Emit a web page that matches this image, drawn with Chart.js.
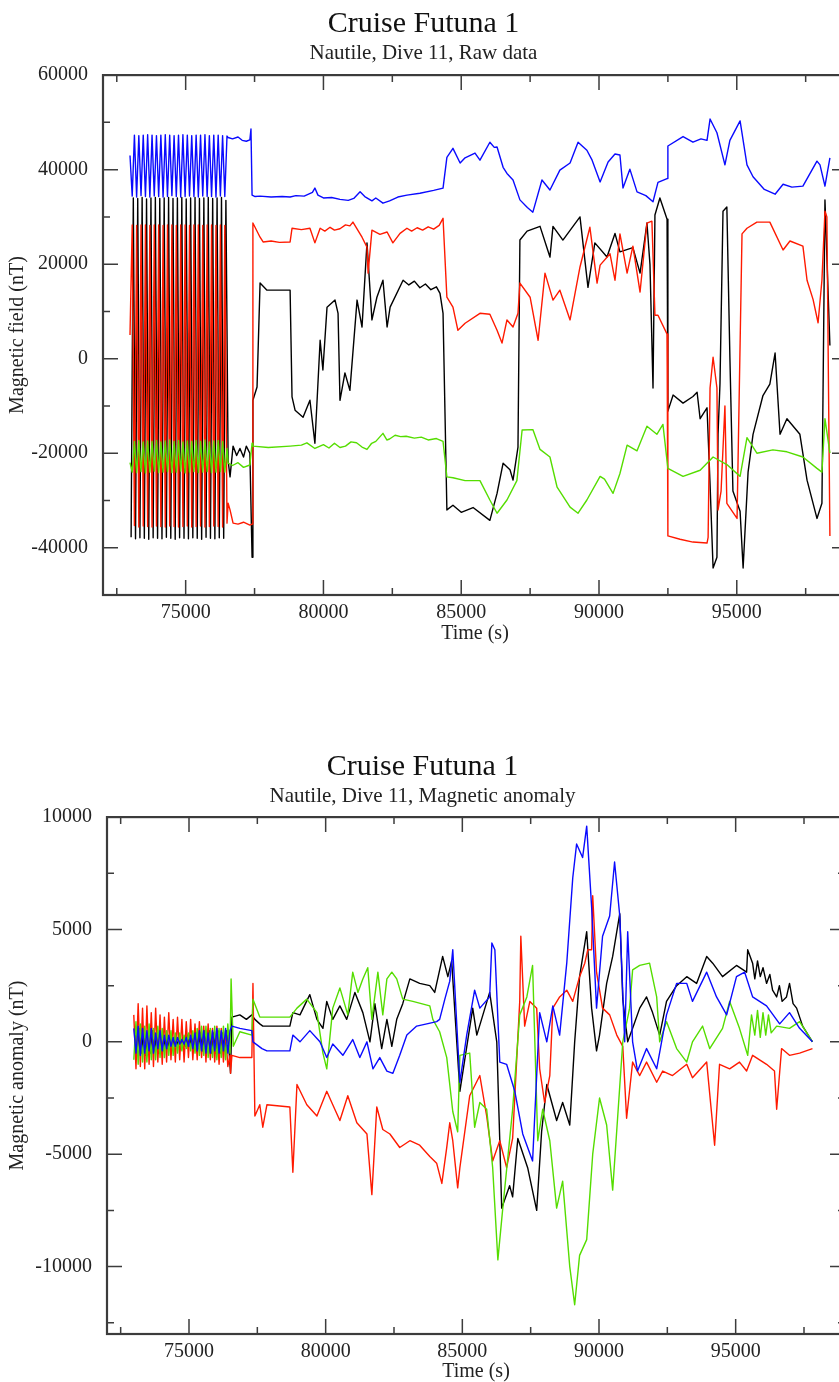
<!DOCTYPE html>
<html>
<head>
<meta charset="utf-8">
<script src="https://cdn.jsdelivr.net/npm/chart.js@4.4.1/dist/chart.umd.min.js"></script>
<style>
html, body { margin: 0; padding: 0; background: #fff; overflow: hidden; width: 839px; height: 1382px; }
#rawBox { position: absolute; left: 0; top: 0; width: 870px; height: 650px; }
#anomBox { position: absolute; left: 0; top: 742px; width: 870px; height: 640px; }
</style>
</head>
<body>
<div id="rawBox"><canvas id="rawChart"></canvas></div>
<div id="anomBox"><canvas id="anomChart"></canvas></div>
<script>
// tick values
var xTicks = [75000, 80000, 85000, 90000, 95000];
var xMinorTicks = [72500, 77500, 82500, 87500, 92500, 97500];
var rawYTicks = [-40000, -20000, 0, 20000, 40000, 60000];
var rawYMinor = [-50000, -30000, -10000, 10000, 30000, 50000];
var anomYTicks = [-10000, -5000, 0, 5000, 10000];
var anomYMinor = [-12500, -7500, -2500, 2500, 7500];

// the magnetometer spins at the start of the dive
var spinTime = [72980, 73060, 73140, 73220, 73300, 73380, 73460, 73540, 73620, 73700, 73780, 73860, 73940, 74020, 74100, 74180, 74260, 74340, 74420, 74500, 74580, 74660, 74740, 74820, 74900, 74980, 75060, 75140, 75220, 75300, 75380, 75460, 75540, 75620, 75700, 75780, 75860, 75940, 76020, 76100, 76180, 76260, 76340, 76420, 76500];
var spinTimeLag = [73020, 73100, 73180, 73260, 73340, 73420, 73500, 73580, 73660, 73740, 73820, 73900, 73980, 74060, 74140, 74220, 74300, 74380, 74460, 74540, 74620, 74700, 74780, 74860, 74940, 75020, 75100, 75180, 75260, 75340, 75420, 75500, 75580, 75660, 75740, 75820, 75900, 75980, 76060, 76140, 76220, 76300, 76380, 76460];

// raw data (nT)
var rawBlueSpin = [43000, 34400, 47300, 34200, 47200, 34500, 47300, 34300, 47400, 34200, 47300, 34400, 47200, 34300, 47300, 34200, 47400, 34300, 47300, 34500, 47200, 34300, 47300, 34200, 47400, 34300, 47300, 34400, 47200, 34300, 47300, 34200, 47300, 34400, 47400, 34300, 47200, 34300, 47300, 34200, 47300, 34400, 47200, 34300, 47100];
var rawRedSpin = [5000, 28300, -35300, 28200, -35600, 28300, -35400, 28300, -35500, 28200, -35600, 28300, -35400, 28300, -35500, 28200, -35600, 28300, -35400, 28300, -35500, 28200, -35600, 28300, -35500, 28300, -35400, 28200, -35600, 28300, -35500, 28300, -35400, 28200, -35600, 28300, -35500, 28300, -35400, 28200, -35500, 28300, -35600, 28200, -34800];
var rawGreenSpin = [-22000, -24000, -17500, -24100, -17300, -23900, -17600, -24200, -17400, -24000, -17500, -23800, -17300, -24100, -17600, -24000, -17400, -23900, -17200, -24100, -17500, -24000, -17300, -23800, -17600, -24200, -17400, -24000, -17500, -23900, -17300, -24100, -17500, -24000, -17200, -23900, -17600, -24100, -17400, -24000, -17300, -23900, -17500, -24000, -19000];
var rawBlackSpin = [-37800, 34000, -38100, 33900, -37900, 34100, -38000, 33800, -38200, 34000, -37900, 34100, -38000, 33900, -38100, 34000, -37800, 34100, -38000, 33900, -38200, 34000, -37900, 34100, -38000, 33800, -38100, 34000, -37900, 34100, -38000, 33900, -38200, 34000, -37800, 34100, -38000, 33900, -38100, 34000, -37900, 34100, -38000, 33500];

var rawBlueTail = [[76540,46800],[76700,46500],[76900,46900],[77050,46200],[77200,46000],[77330,46300],[77370,48600],[77410,34600],[77520,34300],[77700,34400],[78100,34200],[78500,34300],[78790,34200],[79000,34500],[79300,34400],[79600,35200],[79690,36100],[79800,34600],[80000,34000],[80300,34100],[80600,33700],[80900,33500],[81100,33900],[81330,35300],[81500,34300],[81760,33400],[81900,34000],[82160,32900],[82400,33400],[82700,34200],[83030,34600],[83500,35000],[84000,35600],[84340,36100],[84480,42600],[84700,44500],[84960,41400],[85140,42500],[85500,43500],[85680,42000],[86040,45800],[86200,44700],[86300,44800],[86520,40500],[86660,39200],[86880,37800],[87130,33600],[87400,32000],[87600,31000],[87930,37800],[88220,35700],[88580,39900],[88950,41400],[89240,45800],[89560,44100],[89750,42000],[90040,37400],[90330,41600],[90580,43300],[90760,43100],[90870,36100],[91120,40100],[91380,35300],[91700,34500],[91960,33200],[92140,37300],[92470,38100],[92500,45000],[93050,47000],[93410,45800],[93700,46500],[93920,46200],[94030,50700],[94280,47800],[94570,41000],[94750,46200],[95120,50300],[95370,41000],[95590,38500],[96000,35800],[96390,34800],[96680,36900],[97000,36300],[97400,36500],[97910,41800],[98020,41000],[98200,36500],[98380,42500]];
var rawRedTail = [[76540,-30600],[76610,-32000],[76720,-34800],[76900,-35000],[77100,-34600],[77330,-35200],[77410,-35000],[77440,28700],[77700,25700],[77810,24700],[78100,24900],[78400,24600],[78790,24700],[78860,27600],[79200,27300],[79510,27600],[79690,24500],[79880,27600],[80050,27000],[80240,27800],[80400,27200],[80600,27500],[80800,28300],[80960,28100],[81070,28900],[81400,25700],[81580,23600],[81620,18100],[81760,27200],[82050,26300],[82310,26800],[82520,24500],[82780,26500],[83030,27600],[83200,27000],[83400,27700],[83600,27200],[83800,27900],[84000,27400],[84200,28200],[84340,29700],[84480,13000],[84700,10900],[84880,6000],[85140,7500],[85680,9600],[86040,9400],[86300,6000],[86480,3300],[86660,8200],[86880,6700],[87060,9600],[87130,16000],[87500,13000],[87790,3900],[88040,18100],[88330,12400],[88580,14500],[88950,8200],[89310,19400],[89670,27800],[89930,16000],[90040,19800],[90400,22200],[90580,16600],[90760,26400],[91020,18100],[91230,23800],[91490,14100],[91740,28700],[91920,29100],[92030,9200],[92140,9200],[92470,5200],[92500,-37500],[92940,-38200],[93410,-38800],[93920,-39000],[93960,-37800],[94030,-6200],[94140,300],[94280,-6200],[94320,-32000],[94430,-28000],[94570,-10000],[94640,-30600],[95010,-33800],[95190,26400],[95370,27600],[95730,28900],[96200,28900],[96680,23000],[96930,24900],[97400,23800],[97550,16600],[97770,12500],[97950,7600],[98090,16600],[98200,31200],[98270,30000],[98380,-37500]];
var rawGreenTail = [[76540,-22100],[76700,-22600],[76900,-22000],[77100,-23000],[77330,-22500],[77410,-17900],[77440,-18500],[78000,-18800],[78790,-18500],[79200,-18300],[79400,-17800],[79690,-19000],[80000,-18200],[80200,-18900],[80400,-17900],[80600,-18800],[80800,-18500],[81000,-17600],[81200,-17800],[81400,-18700],[81580,-19200],[81750,-17900],[81900,-17500],[82160,-15800],[82300,-17200],[82400,-17000],[82600,-16200],[82800,-16500],[83000,-16400],[83300,-16800],[83550,-16600],[83800,-17200],[84100,-16900],[84340,-17500],[84480,-25000],[84700,-25200],[85140,-25800],[85680,-25800],[86040,-29900],[86300,-32700],[86660,-29900],[87020,-25800],[87210,-15100],[87600,-15000],[87860,-19200],[88220,-20800],[88480,-27200],[88950,-31400],[89240,-32700],[89560,-29900],[90040,-24900],[90200,-25500],[90510,-28500],[90760,-24300],[91020,-18300],[91380,-19500],[91740,-14300],[92100,-16000],[92320,-13900],[92500,-23200],[93050,-24900],[93670,-23600],[94140,-20800],[94640,-22400],[95120,-24900],[95370,-16700],[95730,-20000],[96310,-19300],[96820,-19700],[97400,-20800],[97910,-23200],[98090,-24000],[98200,-12700],[98380,-20000]];
var rawBlackTail = [[76540,-21500],[76610,-25000],[76720,-18500],[76850,-20500],[76970,-19000],[77100,-20800],[77200,-18500],[77330,-20000],[77410,-42000],[77440,-8800],[77590,-6000],[77700,16000],[77950,14500],[78790,14500],[78860,-8100],[78970,-10900],[79260,-12400],[79510,-8800],[79690,-17900],[79880,3900],[79980,-2400],[80130,10900],[80420,12400],[80530,9600],[80600,-8800],[80780,-3000],[80960,-6700],[81220,12400],[81400,6700],[81580,24500],[81760,8200],[81940,13000],[82160,16600],[82310,6700],[82420,10900],[82890,16600],[83100,15600],[83300,16400],[83500,15000],[83700,15800],[83900,14600],[84100,15200],[84230,13800],[84340,9600],[84480,-32000],[84700,-31000],[85000,-32500],[85430,-31500],[86040,-34200],[86300,-28500],[86520,-22100],[86770,-23500],[86880,-25700],[87060,-18700],[87130,25100],[87390,27000],[87860,28000],[88220,21500],[88330,28000],[88690,25100],[89310,30000],[89600,15100],[89850,24500],[90290,21500],[90580,26500],[90760,22600],[91230,23500],[91490,18100],[91740,28700],[91850,19900],[91960,-6200],[92030,30400],[92210,34000],[92470,29500],[92500,-11100],[92690,-7700],[93050,-9400],[93410,-8000],[93560,-7100],[93670,-12700],[93920,-10400],[94030,-26500],[94140,-44300],[94280,-42000],[94320,-16000],[94390,-5400],[94500,31200],[94640,32100],[94750,300],[94860,-28000],[95120,-32300],[95230,-44300],[95410,-24000],[95590,-16000],[95950,-7800],[96200,-5400],[96390,1200],[96570,-16000],[96820,-12700],[97290,-16000],[97550,-25700],[97910,-33800],[98090,-30600],[98200,33600],[98380,2800]];

// magnetic anomaly (nT)
var anomRedSpin = [1200, -1200, 1700, -1100, 1500, -1200, 1600, -1000, 1300, -1100, 1500, -900, 1200, -1000, 1100, -900, 1300, -800, 1000, -900, 1100, -800, 1000, -900, 900, -700, 1000, -800, 800, -800, 900, -700, 700, -900, 800, -800, 600, -900, 700, -1000, 600, -900, 500, -1100, -600];
var anomGreenSpin = [-800, 900, -1000, 800, -900, 700, -900, 800, -800, 600, -800, 700, -700, 600, -700, 500, -600, 500, -600, 400, -500, 400, -400, 300, -300, 400, -400, 500, -500, 600, -600, 700, -600, 700, -700, 600, -700, 700, -800, 600, -700, 700, -800, 800, -500];
var anomBlueSpin = [600, -500, 700, -600, 600, -500, 500, -400, 600, -500, 400, -300, 500, -400, 300, -300, 300, -200, 200, -200, 200, -100, 100, -100, 200, -200, 300, -300, 400, -400, 500, -400, 500, -500, 400, -500, 500, -400, 600, -500, 500, -400, 600, -500, 500];
var anomBlackSpin = [500, -600, 600, -500, 500, -600, 400, -500, 500, -400, 400, -500, 300, -400, 300, -300, 200, -300, 200, -200, 100, -100, 200, -200, 300, -200, 300, -300, 400, -300, 400, -400, 500, -400, 500, -500, 400, -500, 500, -500, 400, -400, 500, -300];

var anomBlackTail = [[76520,-1400],[76570,1100],[76860,1200],[77100,1000],[77300,1200],[77410,1000],[77590,800],[77700,700],[78690,700],[78800,1300],[79060,1200],[79420,2100],[79680,1000],[79900,600],[80040,1800],[80260,1000],[80520,1600],[80770,1000],[81070,2200],[81360,1300],[81620,0],[81800,1700],[82050,-300],[82240,1000],[82420,-200],[82600,1000],[82820,1700],[83080,2800],[83440,2600],[83810,2500],[83990,2200],[84280,3800],[84470,2900],[84610,3600],[84910,-2200],[85380,1500],[85530,300],[86000,2200],[86260,0],[86370,-4400],[86440,-7400],[86730,-6400],[86840,-6900],[87030,-4300],[87390,-5600],[87720,-7500],[87900,-4000],[88090,-1900],[88270,-2700],[88450,-3500],[88670,-2700],[88930,-3700],[89110,0],[89290,2900],[89550,4900],[89730,1500],[89910,-400],[90020,300],[90280,2600],[90500,3800],[90760,5700],[90870,1900],[91050,0],[91230,600],[91490,1500],[91740,2000],[91960,1300],[92220,300],[92470,1800],[92840,2500],[93210,2900],[93570,2600],[93940,3800],[94160,3500],[94520,2900],[95030,3400],[95400,3100],[95440,4100],[95620,3500],[95700,2800],[95800,3600],[95900,2900],[96000,3300],[96130,2600],[96250,3000],[96350,2300],[96500,2000],[96600,2500],[96700,1800],[96860,2000],[96970,2600],[97100,1700],[97230,1500],[97450,700],[97810,0]];
var anomBlueTail = [[76570,700],[76860,600],[77300,500],[77340,0],[77670,-300],[77850,-400],[78690,-400],[78800,300],[79060,0],[79420,500],[79790,0],[80040,-700],[80260,-100],[80630,-600],[80990,100],[81250,-700],[81510,0],[81730,-1200],[81980,-700],[82240,-1300],[82460,-1400],[82710,-600],[82970,300],[83330,700],[83700,800],[84060,900],[84170,1000],[84360,1900],[84540,2700],[84650,4100],[84910,-1800],[85160,300],[85450,2300],[85640,1500],[86000,2000],[86080,4400],[86190,4100],[86370,-900],[86620,-1000],[86920,-2200],[87210,-4100],[87570,-5300],[87830,1300],[88090,0],[88310,1600],[88560,300],[88820,3500],[89040,7300],[89180,8800],[89400,8200],[89550,9600],[89730,6000],[89910,1500],[90130,4700],[90390,5600],[90570,8000],[90760,5600],[90940,0],[91050,4900],[91230,0],[91410,-1300],[91740,-300],[92110,-1200],[92470,1200],[92840,2600],[93210,2600],[93420,1800],[93940,3100],[94300,2000],[94670,1200],[95030,2900],[95330,3100],[95620,2000],[96130,1600],[96610,800],[96970,1300],[97340,600],[97810,0]];
var anomGreenTail = [[76540,2800],[76620,-200],[76860,450],[77300,300],[77340,1900],[77590,1100],[78690,1100],[78950,1500],[79310,1900],[79680,1300],[79900,-500],[80040,-1200],[80260,1500],[80520,2400],[80810,1200],[80990,3100],[81180,2200],[81360,2800],[81540,3300],[81690,1000],[81910,3100],[82090,1200],[82240,2800],[82420,3100],[82600,2800],[82820,1900],[83190,1800],[83810,1600],[83920,1000],[84170,450],[84430,-700],[84650,-3100],[84830,-4000],[84910,-600],[85270,-500],[85450,-3800],[85640,-2700],[85890,-3000],[86110,-5600],[86300,-9700],[86480,-7400],[86840,-3000],[87100,1200],[87360,2000],[87570,3400],[87760,-4400],[87940,-3000],[88200,-4400],[88450,-7400],[88670,-6200],[88930,-10000],[89110,-11700],[89290,-9500],[89550,-8800],[89770,-5000],[90020,-2500],[90280,-3700],[90500,-6600],[90680,-3400],[90870,0],[91120,1500],[91230,3200],[91490,3400],[91850,3500],[92110,2000],[92220,0],[92470,900],[92840,-300],[93210,-900],[93420,0],[93790,700],[94050,-300],[94520,600],[94780,1800],[95140,600],[95440,-600],[95580,1200],[95700,300],[95800,1400],[95900,200],[96000,1300],[96100,300],[96200,1200],[96300,400],[96500,700],[96970,600],[97340,900],[97810,0]];
var anomRedTail = [[76520,-1400],[76570,-600],[76860,-700],[77300,-700],[77340,2600],[77410,-3300],[77590,-2800],[77700,-3800],[77850,-2800],[78690,-2900],[78800,-5800],[78950,-1900],[79310,-2800],[79680,-3300],[80040,-2200],[80260,-2800],[80520,-3500],[80810,-2400],[81140,-3600],[81510,-4100],[81690,-6800],[81870,-2900],[82090,-3900],[82350,-4100],[82710,-4700],[83080,-4400],[83440,-4600],[83810,-5100],[84060,-5400],[84250,-6300],[84430,-4700],[84540,-3600],[84650,-4400],[84830,-6500],[84910,-5600],[85270,-2400],[85640,-1500],[85890,-3300],[86110,-5300],[86370,-4400],[86620,-5600],[86840,-4300],[87100,1800],[87140,4700],[87280,700],[87470,1800],[87720,1500],[87830,-1200],[88010,-2700],[88200,-1500],[88310,1500],[88560,2000],[88820,2300],[89040,1800],[89290,2900],[89480,3500],[89590,4100],[89730,4100],[89770,6500],[89910,3100],[90130,1500],[90390,1200],[90650,300],[90870,-200],[91010,-3400],[91230,-900],[91490,-1500],[91740,-900],[92110,-1800],[92330,-1300],[92690,-1500],[93210,-1000],[93420,-1600],[93940,-900],[94230,-4600],[94410,-1000],[94780,-1200],[95140,-900],[95400,-1300],[95620,-600],[96130,-1000],[96420,-1300],[96500,-3000],[96680,-300],[96970,-600],[97340,-500],[97810,-300]];

var serif = '"Liberation Serif", "Times New Roman", serif';

function series(times, values, tail) {
  var pts = values.map(function (v, i) { return { x: times[i], y: v }; });
  tail.forEach(function (p) { pts.push({ x: p[0], y: p[1] }); });
  return pts;
}

function line(color, pts) {
  return {
    data: pts,
    borderColor: color,
    borderWidth: 1.4,
    borderJoinStyle: 'round',
    pointRadius: 0,
    fill: false,
    tension: 0
  };
}

// frame round the plot with inward ticks on all four sides
var frameTicks = {
  id: 'frameTicks',
  afterDatasetsDraw: function (chart, args, opts) {
    var a = chart.chartArea;
    var ctx = chart.ctx;
    var xs = chart.scales.x, ys = chart.scales.y;
    ctx.save();
    ctx.strokeStyle = '#3c3c3c';
    ctx.lineWidth = 1.5;
    ctx.beginPath();
    function xTick(v, len) {
      var p = xs.getPixelForValue(v);
      ctx.moveTo(p, a.bottom); ctx.lineTo(p, a.bottom - len);
      ctx.moveTo(p, a.top); ctx.lineTo(p, a.top + len);
    }
    function yTick(v, len) {
      var p = ys.getPixelForValue(v);
      ctx.moveTo(a.left, p); ctx.lineTo(a.left + len, p);
      ctx.moveTo(a.right, p); ctx.lineTo(a.right - len, p);
    }
    opts.xMajor.forEach(function (v) { xTick(v, 15); });
    opts.xMinor.forEach(function (v) { xTick(v, 7); });
    opts.yMajor.forEach(function (v) { yTick(v, 15); });
    opts.yMinor.forEach(function (v) { yTick(v, 7); });
    ctx.stroke();
    ctx.lineWidth = 2.2;
    ctx.strokeRect(a.left, a.top, a.right - a.left, a.bottom - a.top);
    ctx.restore();
  }
};

function makeChart(id, o) {
  var ctx = document.getElementById(id).getContext('2d');
  return new Chart(ctx, {
    type: 'line',
    data: { datasets: o.datasets },
    plugins: [frameTicks],
    options: {
      responsive: true,
      maintainAspectRatio: false,
      animation: false,
      layout: { padding: { left: 0, right: o.padRight, top: 0, bottom: 0 } },
      plugins: {
        legend: { display: false },
        tooltip: { enabled: false },
        title: {
          display: true, text: 'Cruise Futuna 1', color: '#111',
          font: { family: serif, size: 30, weight: 'normal', lineHeight: 1.2 },
          padding: { top: o.titleTop, bottom: 0 }
        },
        subtitle: {
          display: true, text: o.subtitle, color: '#222',
          font: { family: serif, size: 21, weight: 'normal', lineHeight: 1.1 },
          padding: { top: 0, bottom: o.subBottom }
        },
        frameTicks: { xMajor: xTicks, xMinor: xMinorTicks, yMajor: o.yTicks, yMinor: o.yMinor }
      },
      scales: {
        x: {
          type: 'linear', min: 72000, max: 99000,
          grid: { display: false }, border: { display: false },
          afterBuildTicks: function (s) { s.ticks = xTicks.map(function (v) { return { value: v }; }); },
          afterFit: function (s) { s.height = o.xHeight; },
          ticks: {
            autoSkip: false, maxRotation: 0, padding: -2, color: '#222',
            font: { family: serif, size: 20 },
            callback: function (v) { return String(v); }
          },
          title: {
            display: true, text: 'Time (s)', color: '#222',
            font: { family: serif, size: 20 },
            padding: { top: 0, bottom: o.xTitleBottom }
          }
        },
        y: {
          type: 'linear', min: o.yMin, max: o.yMax,
          grid: { display: false }, border: { display: false },
          afterBuildTicks: function (s) { s.ticks = o.yTicks.map(function (v) { return { value: v }; }); },
          afterFit: function (s) { s.width = o.yWidth; },
          ticks: {
            autoSkip: false, padding: 7, color: '#222',
            font: { family: serif, size: 20 },
            callback: function (v) { return String(v); }
          },
          title: {
            display: true, text: o.yTitle, color: '#222',
            font: { family: serif, size: 20 },
            padding: { top: 6, bottom: 0 }
          }
        }
      }
    }
  });
}

makeChart('rawChart', {
  subtitle: 'Nautile, Dive 11, Raw data',
  yTitle: 'Magnetic field (nT)',
  yMin: -50000, yMax: 60000,
  yTicks: rawYTicks, yMinor: rawYMinor,
  titleTop: 6, subBottom: 10, padRight: 23,
  xHeight: 55, yWidth: 103, xTitleBottom: 4,
  datasets: [
    line('#0a0aff', series(spinTime, rawBlueSpin, rawBlueTail)),
    line('#55dd00', series(spinTime, rawGreenSpin, rawGreenTail)),
    line('#ff1a00', series(spinTime, rawRedSpin, rawRedTail)),
    line('#000000', series(spinTimeLag, rawBlackSpin, rawBlackTail))
  ]
});

makeChart('anomChart', {
  subtitle: 'Nautile, Dive 11, Magnetic anomaly',
  yTitle: 'Magnetic anomaly (nT)',
  yMin: -13000, yMax: 10000,
  yTicks: anomYTicks, yMinor: anomYMinor,
  titleTop: 7, subBottom: 9, padRight: 25,
  xHeight: 48, yWidth: 107, xTitleBottom: -2,
  datasets: [
    line('#0a0aff', series(spinTime, anomBlueSpin, anomBlueTail)),
    line('#55dd00', series(spinTime, anomGreenSpin, anomGreenTail)),
    line('#ff1a00', series(spinTime, anomRedSpin, anomRedTail)),
    line('#000000', series(spinTimeLag, anomBlackSpin, anomBlackTail))
  ]
});
</script>
</body>
</html>
